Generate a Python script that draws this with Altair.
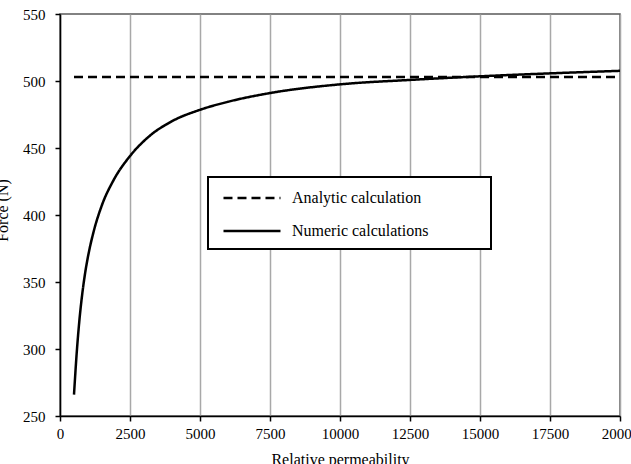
import altair as alt
import pandas as pd

# ---- data ----
perm_numeric = [500, 600, 700, 800, 900, 1000, 1200, 1500, 1900, 2500, 3200, 4000,
                5000, 6000, 7500, 10000, 12500, 15000, 17500, 20000]
force_numeric = [266, 298, 323, 342, 357, 369, 387.5, 407.5, 425.5, 444, 459, 470,
                 478.5, 484.5, 491, 497.5, 500.8, 503.5, 505.7, 507.6]
perm_analytic = [500, 20000]
force_analytic = [503, 503]
series_names = ["Analytic calculation", "Numeric calculations"]
x_ticks = [0, 2500, 5000, 7500, 10000, 12500, 15000, 17500, 20000]
y_ticks = [250, 300, 350, 400, 450, 500, 550]

df = pd.concat([
    pd.DataFrame({"perm": perm_analytic, "force": force_analytic, "series": series_names[0]}),
    pd.DataFrame({"perm": perm_numeric, "force": force_numeric, "series": series_names[1]}),
])

FONT = "Liberation Serif"

chart = alt.Chart(df).mark_line(
    strokeWidth=2.5, color="black", interpolate="monotone"
).encode(
    x=alt.X("perm:Q",
            scale=alt.Scale(domain=[0, 20000], nice=False),
            axis=alt.Axis(values=x_ticks, format="d", title="Relative permeability", grid=True,
                          labelFlush=False, labelPadding=5, labelOverlap=False,
                          titleY=48, titleBaseline="alphabetic")),
    y=alt.Y("force:Q",
            scale=alt.Scale(domain=[250, 550], nice=False, zero=False),
            axis=alt.Axis(values=y_ticks, format="d", title="Force (N)", grid=False,
                          labelPadding=10, titleX=-53, titleY=196,
                          titleBaseline="alphabetic")),
    strokeDash=alt.StrokeDash(
        "series:N",
        scale=alt.Scale(domain=series_names, range=[[9, 5], [1, 0]]),
        legend=alt.Legend(title=None, orient="none", legendX=148, legendY=163,
                          symbolType="M-0.58,0H5.42", symbolSize=361,
                          symbolStrokeWidth=2.5, symbolStrokeColor="black",
                          symbolFillColor="transparent",
                          labelExpr="datum.label + '\u00a0\u2800\u2800\u2800\u2800'",
                          labelLimit=400,
                          labelOffset=52, rowPadding=14, padding=10,
                          strokeColor="black", fillColor="white")),
    detail="series:N",
).properties(
    width=560, height=402,
    autosize=alt.AutoSizeParams(type="none"),
    padding={"left": 60, "top": 14, "right": 11, "bottom": 48},
).configure_view(
    stroke="#5a5a5a", strokeWidth=1.5
).configure_axis(
    domainColor="black", domainWidth=1.5,
    tickColor="black", tickWidth=1.5, tickSize=5,
    labelFont=FONT, labelFontSize=15, labelColor="black",
    titleFont=FONT, titleFontSize=16, titleFontWeight="normal", titleColor="black",
    gridColor="#a8a8a8", gridWidth=1.5,
).configure_legend(
    labelFont=FONT, labelFontSize=16, labelColor="black",
    strokeWidth=2,
)

chart.save("out.html", embed_options={"renderer": "svg", "actions": False})
